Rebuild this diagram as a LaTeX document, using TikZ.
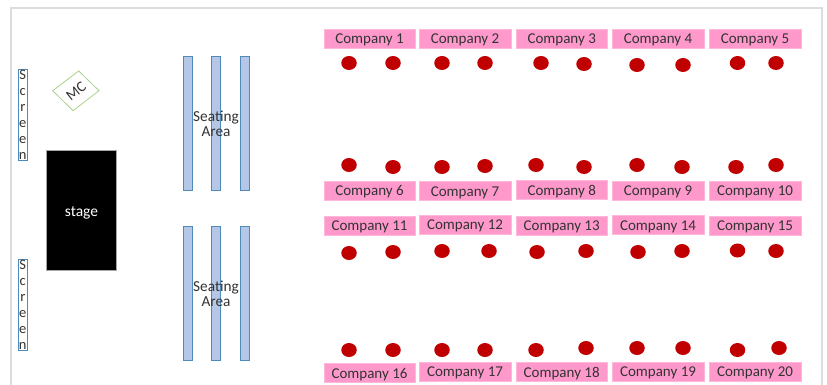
\documentclass[tikz,border=0pt]{standalone}
\usepackage{fontspec}
\setmainfont{Carlito}
\usepackage{tikz}
\definecolor{framegray}{HTML}{DDDDDD}
\definecolor{boothpink}{HTML}{FF99CC}
\definecolor{seatblue}{HTML}{B4C7E7}
\definecolor{seatedge}{HTML}{4F8AB8}
\definecolor{tablered}{HTML}{C00000}
\definecolor{mcgreen}{HTML}{A9D18E}
\definecolor{labelgray}{HTML}{333333}
\tikzset{
    frameline/.style={draw=framegray,line width=2pt},
    company/.style={rectangle,fill=boothpink,draw=boothpink!70,line width=0.5pt,minimum width=91.5pt,minimum height=19pt,inner sep=0pt,text=labelgray,font=\fontsize{15}{16}\selectfont,text height=13pt,text depth=3pt},
    table/.style={ellipse,fill=tablered,minimum width=15.5pt,minimum height=14pt,inner sep=0pt},
    seats/.style={rectangle,fill=seatblue,draw=seatedge,line width=0.6pt,minimum width=9pt,minimum height=134pt,inner sep=0pt},
    screen/.style={rectangle,draw=seatedge,fill=white,line width=0.6pt,minimum width=9.5pt,minimum height=90.5pt,inner sep=0pt,align=center,text width=9.5pt,text=labelgray,font=\fontsize{14.5}{15.9}\selectfont},
    seating/.style={align=center,inner sep=0pt,text=labelgray,font=\fontsize{15.3}{15}\selectfont},
    mcbox/.style={draw=mcgreen,line width=0.8pt}
}
\usetikzlibrary{positioning,shapes.geometric}
\begin{document}
\begin{tikzpicture}[x=1pt,y=-1pt]

    \useasboundingbox (0,0) rectangle (827,385);
    \draw[frameline] (11,385) -- (11,8.5) -- (822,8.5) -- (822,385);

    % left side
    \node[screen] (screen 1) at (22.8,114.8) {S\\c\\r\\e\\e\\n};
    \node[screen] (screen 2) at (22.8,304.8) {S\\c\\r\\e\\e\\n};

    \coordinate (mc w) at (52.7,90.7);
    \coordinate (mc n) at (78.7,71);
    \coordinate (mc e) at (99,90.7);
    \coordinate (mc s) at (73,110.7);
    \draw[mcbox] (mc w) -- (mc n) -- (mc e) -- (mc s) -- cycle;
    \node[rotate=38,inner sep=0pt,text=labelgray,font=\fontsize{15}{16}\selectfont] (mc) at (76,91) {MC};

    \node[rectangle,fill=black,draw=gray!70,line width=0.5pt,minimum width=70pt,minimum height=120pt,inner sep=0pt] (stage) at (81.5,210.5) {};
    \node[text=white,inner sep=0pt,font=\fontsize{15.5}{16}\selectfont] (stage label) at (81.5,213) {stage};

    \node[seats] (seats 1a) at (187.5,123) {};
    \node[seats] (seats 1b) at (215.8,123) {};
    \node[seats] (seats 1c) at (244.5,123) {};
    \node[seats] (seats 2a) at (187.5,293.2) {};
    \node[seats] (seats 2b) at (215.8,293.2) {};
    \node[seats] (seats 2c) at (244.5,293.2) {};
    \node[seating] (area 1) at (216,124) {Seating\\Area};
    \node[seating] (area 2) at (216,294) {Seating\\Area};

    % first block
    \node[company] (company 1) at (369.5,38.5) {Company 1};
    \node[company] (company 2) at (465,38.5) {Company 2};
    \node[company] (company 3) at (561.7,38.5) {Company 3};
    \node[company] (company 4) at (658,38.5) {Company 4};
    \node[company] (company 5) at (755,38.5) {Company 5};
    \node[company] (company 6) at (369.5,190.3) {Company 6};
    \node[company] (company 7) at (465,191) {Company 7};
    \node[company] (company 8) at (561.7,190) {Company 8};
    \node[company] (company 9) at (658,190.5) {Company 9};
    \node[company] (company 10) at (755,190.5) {Company 10};

    \node[table] (table 1a) at (349,63) {};
    \node[table] (table 1b) at (393,63) {};
    \node[table] (table 2a) at (442,63) {};
    \node[table] (table 2b) at (485,63) {};
    \node[table] (table 3a) at (541,63) {};
    \node[table] (table 3b) at (584,64) {};
    \node[table] (table 4a) at (637,65) {};
    \node[table] (table 4b) at (683,65) {};
    \node[table] (table 5a) at (737.5,63) {};
    \node[table] (table 5b) at (776,63) {};
    \node[table] (table 6a) at (349,165) {};
    \node[table] (table 6b) at (393,167) {};
    \node[table] (table 7a) at (442,167) {};
    \node[table] (table 7b) at (485,166) {};
    \node[table] (table 8a) at (536,165) {};
    \node[table] (table 8b) at (584,167) {};
    \node[table] (table 9a) at (637,165) {};
    \node[table] (table 9b) at (682,167) {};
    \node[table] (table 10a) at (736,167) {};
    \node[table] (table 10b) at (776,165) {};

    % second block
    \node[company] (company 11) at (369.5,225.5) {Company 11};
    \node[company] (company 12) at (465,224.7) {Company 12};
    \node[company] (company 13) at (561.7,225.5) {Company 13};
    \node[company] (company 14) at (658,225.2) {Company 14};
    \node[company] (company 15) at (755,225.5) {Company 15};
    \node[company] (company 16) at (369.5,373) {Company 16};
    \node[company] (company 17) at (465,371.5) {Company 17};
    \node[company] (company 18) at (561.7,372.2) {Company 18};
    \node[company] (company 19) at (658,371.5) {Company 19};
    \node[company] (company 20) at (755,371.5) {Company 20};

    \node[table] (table 11a) at (349,253) {};
    \node[table] (table 11b) at (393,252) {};
    \node[table] (table 12a) at (442,251) {};
    \node[table] (table 12b) at (489,251) {};
    \node[table] (table 13a) at (537,252) {};
    \node[table] (table 13b) at (586,251) {};
    \node[table] (table 14a) at (638,252) {};
    \node[table] (table 14b) at (682,251) {};
    \node[table] (table 15a) at (737.5,250.5) {};
    \node[table] (table 15b) at (776,251) {};
    \node[table] (table 16a) at (349,350) {};
    \node[table] (table 16b) at (393,350) {};
    \node[table] (table 17a) at (442,350) {};
    \node[table] (table 17b) at (485,350) {};
    \node[table] (table 18a) at (536,350) {};
    \node[table] (table 18b) at (586,348) {};
    \node[table] (table 19a) at (637,348) {};
    \node[table] (table 19b) at (683,348) {};
    \node[table] (table 20a) at (737.5,350) {};
    \node[table] (table 20b) at (779,348) {};

\end{tikzpicture}
\end{document}
